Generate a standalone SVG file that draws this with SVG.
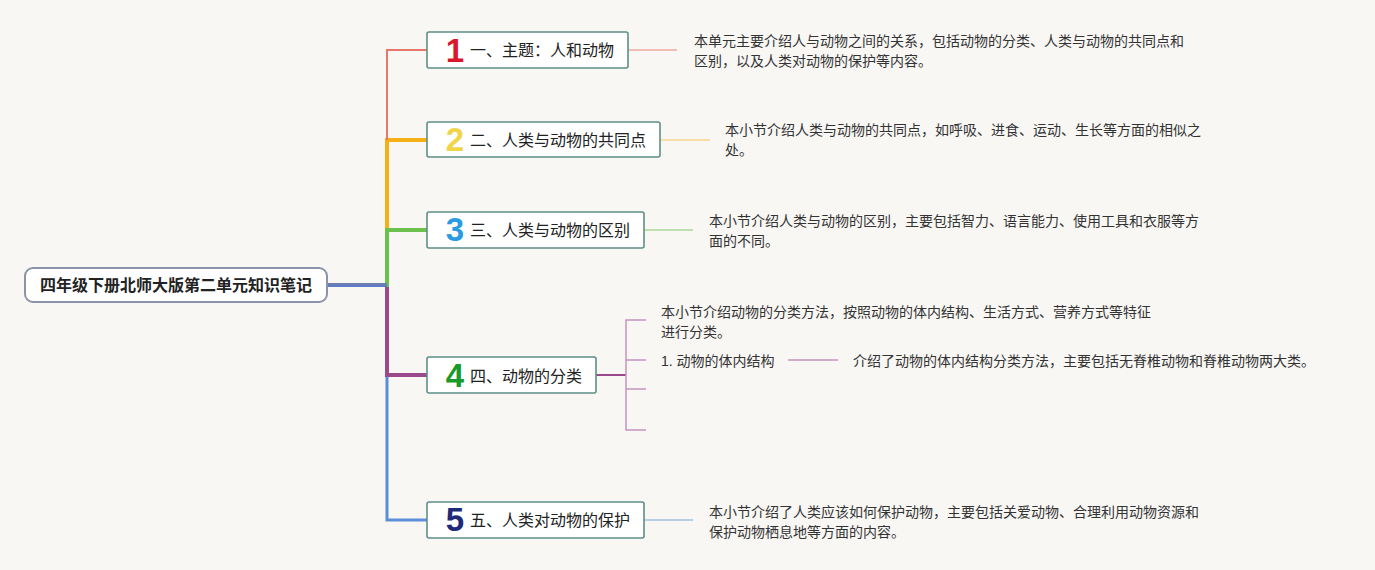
<svg xmlns="http://www.w3.org/2000/svg" width="1375" height="570" viewBox="0 0 1375 570">
<style>
.bg{fill:#f8f7f4}
.node{fill:#ffffff;stroke:#5e8f86;stroke-width:1.6}
.root{fill:#ffffff;stroke:#8a93a8;stroke-width:2}
.lbl{font-family:"Liberation Sans","Noto Sans CJK SC",sans-serif;font-size:16px;fill:#222}
.rootlbl{font-family:"Liberation Sans","Noto Sans CJK SC",sans-serif;font-size:16px;font-weight:bold;fill:#222}
.num{font-family:"Liberation Sans","Noto Sans CJK SC",sans-serif;font-size:33px;font-weight:bold;text-anchor:middle}
.desc{font-family:"Liberation Sans","Noto Sans CJK SC",sans-serif;font-size:14px;fill:#333}
.c{fill:none;stroke-linejoin:miter}
</style>
<rect class="bg" x="0" y="0" width="1375" height="570"/>
<g id="connectors">
  <path class="c" d="M327,285 H387 V520 H427" stroke="#5b8ed8" stroke-width="3"/>
  <path class="c" d="M327,285 H387 V375 H427" stroke="#9a4a8a" stroke-width="4"/>
  <path class="c" d="M387,285 V140 H427" stroke="#f5b016" stroke-width="4"/>
  <path class="c" d="M327,285 H387 V230 H427" stroke="#6cc04c" stroke-width="4"/>
  <path class="c" d="M387,140 V50 H427" stroke="#e8766a" stroke-width="2"/>
  <path class="c" d="M327,285 H387" stroke="#5f7cc6" stroke-width="4"/>
  <path class="c" d="M327,284 H387" stroke="#7a7f96" stroke-width="1"/>
  <path class="c" d="M628,50 H677" stroke="#f0aaa0" stroke-width="1.5"/>
  <path class="c" d="M660,140 H710" stroke="#f8d590" stroke-width="1.5"/>
  <path class="c" d="M644,230 H693" stroke="#aad894" stroke-width="1.5"/>
  <path class="c" d="M644,520 H693" stroke="#a4bee2" stroke-width="1.5"/>
  <path class="c" d="M596,375 H626" stroke="#9a4a8a" stroke-width="2"/>
  <path class="c" d="M646,320 H626 V430 H646 M626,360 H646 M626,389 H646" stroke="#c594bd" stroke-width="1.5"/>
  <path class="c" d="M788,360 H838" stroke="#c594bd" stroke-width="1.5"/>
</g>
<g id="root">
  <rect class="root" x="25" y="268" width="302" height="34" rx="8"/>
  <text class="rootlbl" x="176" y="291" text-anchor="middle">四年级下册北师大版第二单元知识笔记</text>
</g>
<g id="node1">
  <rect class="node" x="427" y="32" width="201" height="36" rx="2"/>
  <text class="num" x="455" y="62" fill="#d9182d">1</text>
  <text class="lbl" x="470" y="56">一、主题：人和动物</text>
</g>
<g id="node2">
  <rect class="node" x="427" y="122" width="233" height="35" rx="2"/>
  <text class="num" x="455" y="151" fill="#f0d54a">2</text>
  <text class="lbl" x="470" y="146">二、人类与动物的共同点</text>
</g>
<g id="node3">
  <rect class="node" x="427" y="212" width="217" height="36" rx="2"/>
  <text class="num" x="455" y="241" fill="#2a9be0">3</text>
  <text class="lbl" x="470" y="236">三、人类与动物的区别</text>
</g>
<g id="node4">
  <rect class="node" x="427" y="357" width="169" height="36" rx="2"/>
  <text class="num" x="455" y="387" fill="#1a9a2a">4</text>
  <text class="lbl" x="470" y="382">四、动物的分类</text>
</g>
<g id="node5">
  <rect class="node" x="427" y="502" width="217" height="36" rx="2"/>
  <text class="num" x="455" y="531" fill="#1e2a78">5</text>
  <text class="lbl" x="470" y="526">五、人类对动物的保护</text>
</g>
<g id="desc1">
  <text class="desc" x="694" y="46">本单元主要介绍人与动物之间的关系，包括动物的分类、人类与动物的共同点和</text>
  <text class="desc" x="694" y="66">区别，以及人类对动物的保护等内容。</text>
</g>
<g id="desc2">
  <text class="desc" x="725" y="135">本小节介绍人类与动物的共同点，如呼吸、进食、运动、生长等方面的相似之</text>
  <text class="desc" x="725" y="155">处。</text>
</g>
<g id="desc3">
  <text class="desc" x="709" y="226">本小节介绍人类与动物的区别，主要包括智力、语言能力、使用工具和衣服等方</text>
  <text class="desc" x="709" y="246">面的不同。</text>
</g>
<g id="desc4">
  <text class="desc" x="661" y="317">本小节介绍动物的分类方法，按照动物的体内结构、生活方式、营养方式等特征</text>
  <text class="desc" x="661" y="337">进行分类。</text>
</g>
<g id="sub4a">
  <text class="desc" x="661" y="366">1. 动物的体内结构</text>
</g>
<g id="sub4a-desc">
  <text class="desc" x="853" y="366">介绍了动物的体内结构分类方法，主要包括无脊椎动物和脊椎动物两大类。</text>
</g>
<g id="desc5">
  <text class="desc" x="709" y="517">本小节介绍了人类应该如何保护动物，主要包括关爱动物、合理利用动物资源和</text>
  <text class="desc" x="709" y="537">保护动物栖息地等方面的内容。</text>
</g>
</svg>
